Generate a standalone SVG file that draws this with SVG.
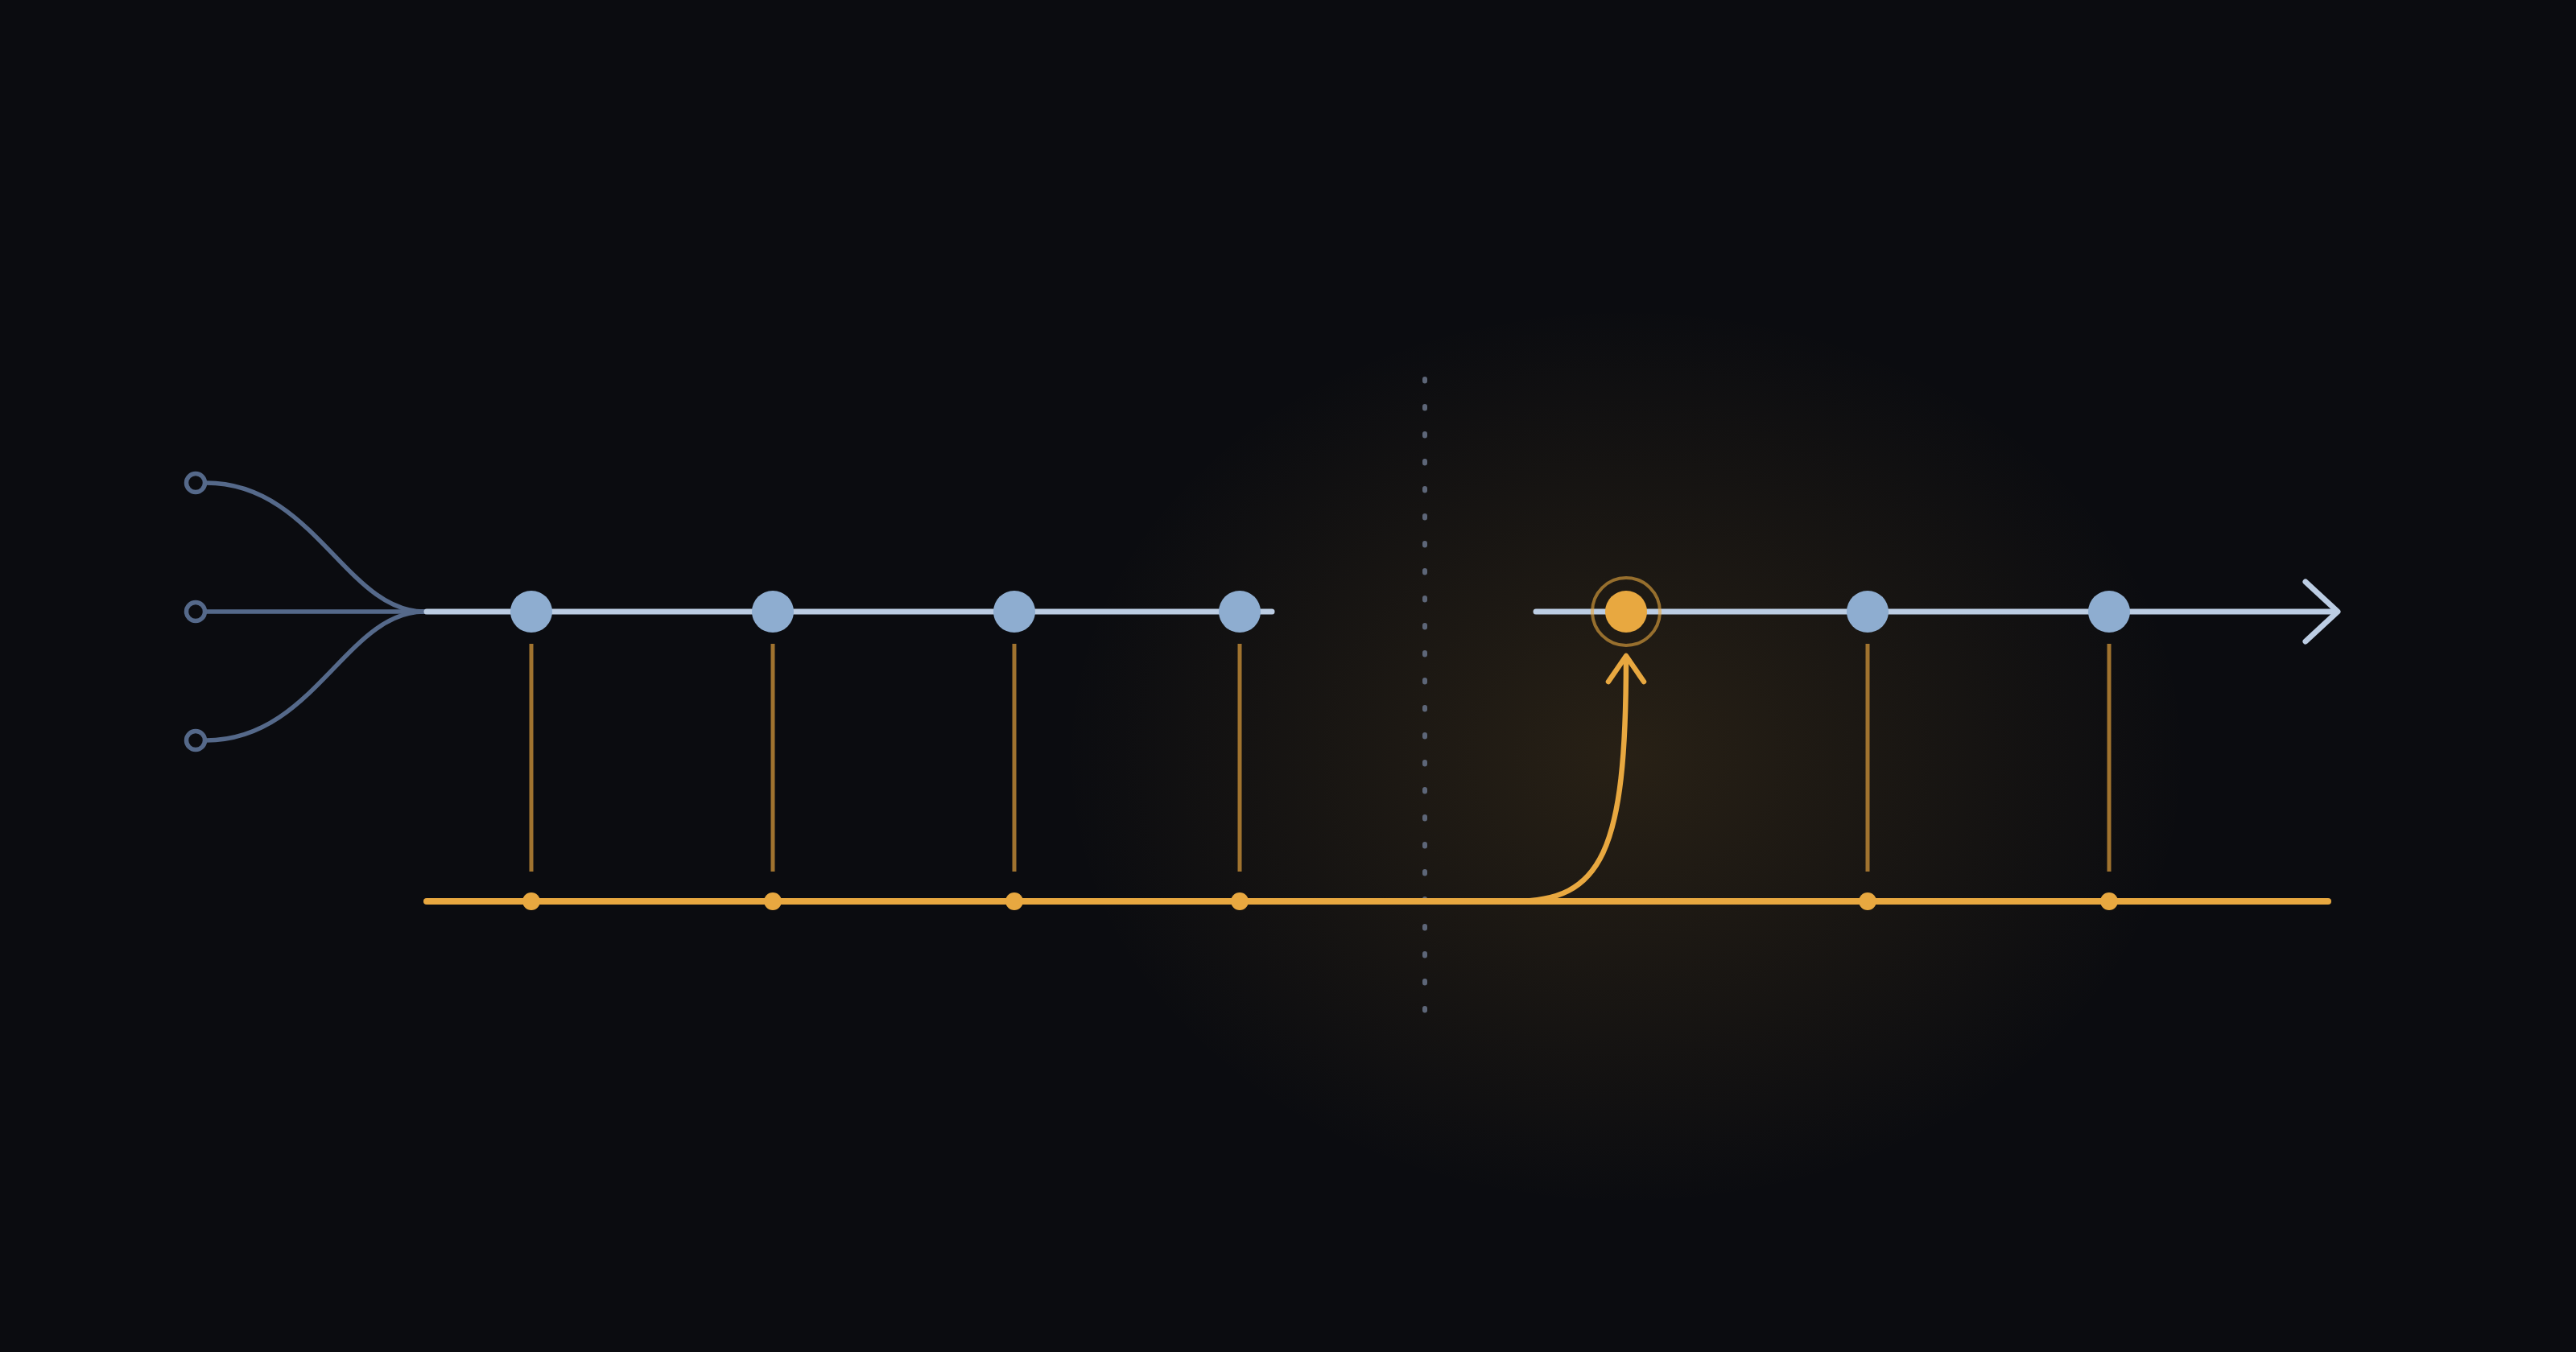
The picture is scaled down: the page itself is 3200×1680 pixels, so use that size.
<svg xmlns="http://www.w3.org/2000/svg" width="3200" height="1680" viewBox="0 0 3200 1680">
  <defs>
    <radialGradient id="glow" gradientUnits="userSpaceOnUse" cx="2020" cy="940" r="700" gradientTransform="translate(2020 940) scale(1 0.8) translate(-2020 -940)">
      <stop offset="0" stop-color="#e8a838" stop-opacity="0.13"/>
      <stop offset="0.5" stop-color="#e8a838" stop-opacity="0.065"/>
      <stop offset="1" stop-color="#e8a838" stop-opacity="0"/>
    </radialGradient>
    <style>
      .fan { fill: none; stroke: #55698a; stroke-width: 5.5; stroke-linecap: round; }
      .src { fill: none; stroke: #55698a; stroke-width: 5.5; }
      .main { fill: none; stroke: #bccde3; stroke-width: 7; stroke-linecap: round; stroke-linejoin: round; }
      .node { fill: #8eadd0; }
      .hot { fill: #e8a840; }
      .link { stroke: #a0732f; stroke-width: 5; }
      .track { fill: none; stroke: #e8a840; stroke-width: 8; stroke-linecap: round; }
      .tick { fill: #e8a840; }
      .divider { stroke: #5d6678; stroke-width: 6; stroke-linecap: round; stroke-dasharray: 2.5 31.5; }
      .jump { fill: none; stroke: #e8a840; stroke-width: 6.5; stroke-linecap: round; stroke-linejoin: round; }
    </style>
  </defs>
  <rect x="0" y="0" width="3200" height="1680" fill="#0b0c10"/>
  <rect x="0" y="0" width="3200" height="1680" fill="url(#glow)"/>

  <g id="connectors">
    <path class="fan" d="M256 600 C390 600 430 760 527 760"/>
    <path class="fan" d="M256 760 L527 760" stroke-width="5"/>
    <path class="fan" d="M256 920 C390 920 430 760 527 760"/>
    <line class="divider" x1="1770" y1="471" x2="1770" y2="1258"/>
    <path class="main" d="M530 760 L1580 760"/>
    <path class="main" d="M1908 760 L2903 760"/>
    <path class="main" d="M2864 723 L2904 760 L2864 797"/>
    <line class="link" x1="660" y1="800" x2="660" y2="1083"/>
    <line class="link" x1="960" y1="800" x2="960" y2="1083"/>
    <line class="link" x1="1260" y1="800" x2="1260" y2="1083"/>
    <line class="link" x1="1540" y1="800" x2="1540" y2="1083"/>
    <line class="link" x1="2320" y1="800" x2="2320" y2="1083"/>
    <line class="link" x1="2620" y1="800" x2="2620" y2="1083"/>
    <path class="track" d="M530 1120 L2892 1120"/>
    <path class="jump" d="M1880 1120 C1990 1120 2020 1060 2020 818"/>
    <path class="jump" d="M1998 847 L2020 815 L2042 847"/>
  </g>

  <g id="sources">
    <circle class="src" cx="243" cy="600" r="11.5"/>
    <circle class="src" cx="243" cy="760" r="11.5"/>
    <circle class="src" cx="243" cy="920" r="11.5"/>
  </g>

  <g id="node-1"><circle class="node" cx="660" cy="760" r="26"/><circle class="tick" cx="660" cy="1120" r="11"/></g>
  <g id="node-2"><circle class="node" cx="960" cy="760" r="26"/><circle class="tick" cx="960" cy="1120" r="11"/></g>
  <g id="node-3"><circle class="node" cx="1260" cy="760" r="26"/><circle class="tick" cx="1260" cy="1120" r="11"/></g>
  <g id="node-4"><circle class="node" cx="1540" cy="760" r="26"/><circle class="tick" cx="1540" cy="1120" r="11"/></g>
  <g id="node-hot">
    <circle cx="2020" cy="760" r="42" fill="none" stroke="#e8a840" stroke-opacity="0.6" stroke-width="4"/>
    <circle class="hot" cx="2020" cy="760" r="26"/>
  </g>
  <g id="node-6"><circle class="node" cx="2320" cy="760" r="26"/><circle class="tick" cx="2320" cy="1120" r="11"/></g>
  <g id="node-7"><circle class="node" cx="2620" cy="760" r="26"/><circle class="tick" cx="2620" cy="1120" r="11"/></g>
</svg>
